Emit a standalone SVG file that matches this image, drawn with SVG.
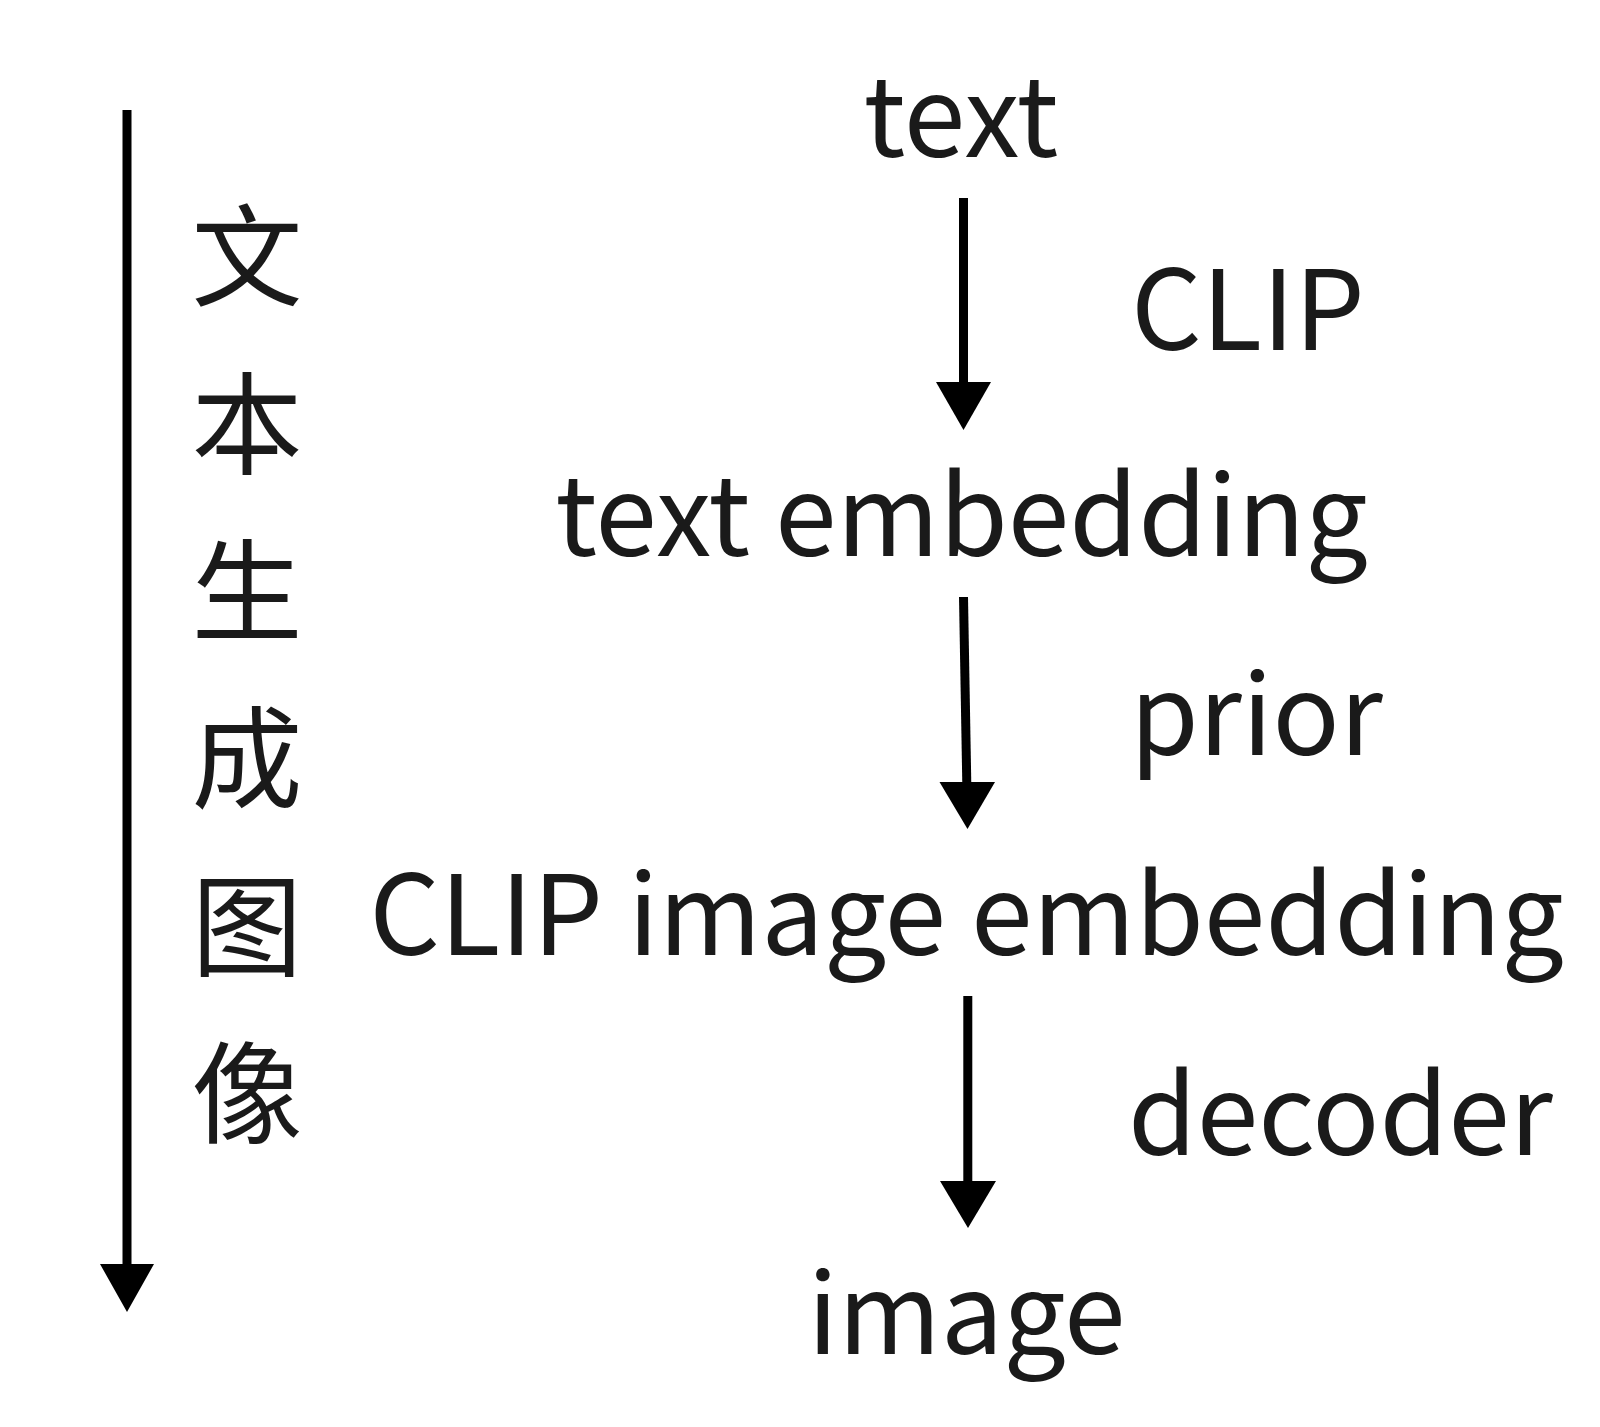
<svg xmlns="http://www.w3.org/2000/svg" width="1600" height="1427" viewBox="0 0 1600 1427">
<style>
.t{font-family:"Noto Sans CJK SC","Noto Sans",sans-serif;font-size:111px;fill:#1a1a1a}
.m{text-anchor:middle}
.ln{stroke:#000;stroke-width:9;fill:none}
.hd{fill:#000}
</style>
<rect width="1600" height="1427" fill="#fff"/>
<g id="flow-label">
<text class="t m" x="247" y="298">文</text>
<text class="t m" x="247" y="465.5">本</text>
<text class="t m" x="247" y="633">生</text>
<text class="t m" x="247" y="800">成</text>
<text class="t m" x="247" y="967.5">图</text>
<text class="t m" x="247" y="1135">像</text>
</g>
<g id="node-text"><text class="t m" x="961" y="157">text</text></g>
<g id="node-text-embedding"><text class="t m" x="961.5" y="556">text embedding</text></g>
<g id="node-clip-image-embedding"><text class="t m" x="966.5" y="955">CLIP image embedding</text></g>
<g id="node-image"><text class="t m" x="966.5" y="1354">image</text></g>
<g id="edge-labels">
<text class="t" x="1131" y="350">CLIP</text>
<text class="t" x="1130" y="755">prior</text>
<text class="t" x="1128" y="1155">decoder</text>
</g>
<g id="connectors">
<line class="ln" x1="127" y1="110" x2="127" y2="1266"/>
<polygon class="hd" points="100,1264 154,1264 127,1312"/>
<line class="ln" x1="963.5" y1="198" x2="963.5" y2="384"/>
<polygon class="hd" points="936,382 991,382 963.5,430"/>
<line class="ln" x1="963.5" y1="597" x2="966.8" y2="784"/>
<polygon class="hd" points="939.5,782 995,782 967.5,829"/>
<line class="ln" x1="967.8" y1="996" x2="967.8" y2="1183"/>
<polygon class="hd" points="940,1181 996,1181 968,1228"/>
</g>
</svg>
